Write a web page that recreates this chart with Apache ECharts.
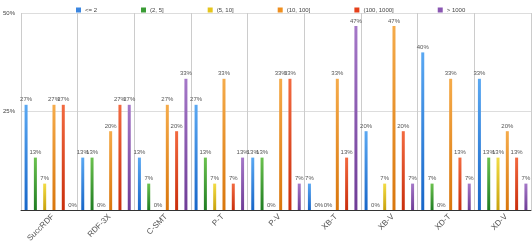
<!DOCTYPE html>
<html><head><meta charset="utf-8">
<script src="https://cdn.jsdelivr.net/npm/echarts@6/dist/echarts.min.js"></script>
<style>html,body{margin:0;padding:0;background:#fff}#c{width:532px;height:245px}</style>
</head><body><div id="c"></div>
<script>
var categories = ['SuccRDF','RDF-3X','C-SMT','P-T','P-V','XB-T','XB-V','XD-T','XD-V'];
var seriesNames = ['<= 2','(2, 5]','(5, 10]','(10, 100]','(100, 1000]','> 1000'];
var s_le2     = [26.7, 13.3, 13.3, 26.7, 13.3,  6.7, 20.0, 40.0, 33.3];
var s_2_5     = [13.3, 13.3,  6.7, 13.3, 13.3,  0.0,  0.0,  6.7, 13.3];
var s_5_10    = [ 6.7,  0.0,  0.0,  6.7,  0.0,  0.0,  6.7,  0.0, 13.3];
var s_10_100  = [26.7, 20.0, 26.7, 33.3, 33.3, 33.3, 46.7, 33.3, 20.0];
var s_100_1k  = [26.7, 26.7, 20.0,  6.7, 33.3, 13.3, 20.0, 13.3, 13.3];
var s_gt1k    = [ 0.0, 26.7, 33.3, 13.3,  6.7, 46.7,  6.7,  6.7,  6.7];
var yTicks = [0, 25, 50];

var allData = [s_le2, s_2_5, s_5_10, s_10_100, s_100_1k, s_gt1k];
var solid = ['#3b86e0','#3a9c35','#e5c51c','#ef8f1f','#e5401a','#8a56b2'];
var tops  = ['#5aa8f2','#6cc24f','#f2dc45','#f5ab4a','#f26a40','#a578c8'];
var bots  = ['#1766c8','#1f7d22','#c9a20c','#d9760c','#c92e0c','#6e3c96'];

var series = seriesNames.map(function(n,i){
  return {
    name:n, type:'bar', data:allData[i], barWidth:3, barGap:'210%',
    itemStyle:{color:{type:'linear',x:0,y:0,x2:0,y2:1,colorStops:[{offset:0,color:tops[i]},{offset:1,color:bots[i]}]}},
    label:{show:true, position:'top', distance:2, fontSize:6, color:'#555', fontFamily:'Liberation Sans',
      formatter:function(p){return Math.round(p.value)+'%';}}
  };
});

var chart = echarts.init(document.getElementById('c'), null, {renderer:'canvas'});
chart.setOption({
  animation:false,
  textStyle:{fontFamily:'Liberation Sans'},
  legend:{
    left:71, top:2, itemWidth:5, itemHeight:5, itemGap:44, icon:'rect',
    textStyle:{fontSize:6, color:'#444', padding:[0,0,0,-1]},
    data: seriesNames.map(function(n,i){return {name:n, itemStyle:{color:solid[i]}};})
  },
  grid:{left:18, right:1, top:13, bottom:35},
  xAxis:{
    type:'category', data:categories,
    axisLine:{lineStyle:{color:'#333', width:1}},
    axisTick:{show:false},
    splitLine:{show:true, lineStyle:{color:'#ccc', width:1}},
    axisLabel:{rotate:45, fontSize:8, color:'#555', margin:9, interval:0, padding:[10,-5,0,0]}
  },
  yAxis:{
    type:'value', min:yTicks[0], max:yTicks[yTicks.length-1], interval:yTicks[1]-yTicks[0],
    axisLine:{show:false}, axisTick:{show:false},
    splitLine:{lineStyle:{color:'#ddd', width:1}},
    axisLabel:{fontSize:6, color:'#444', align:'left', margin:18,
      formatter:function(v){return v===0?'':v+'%';}}
  },
  series:series
});
</script>
</body></html>
